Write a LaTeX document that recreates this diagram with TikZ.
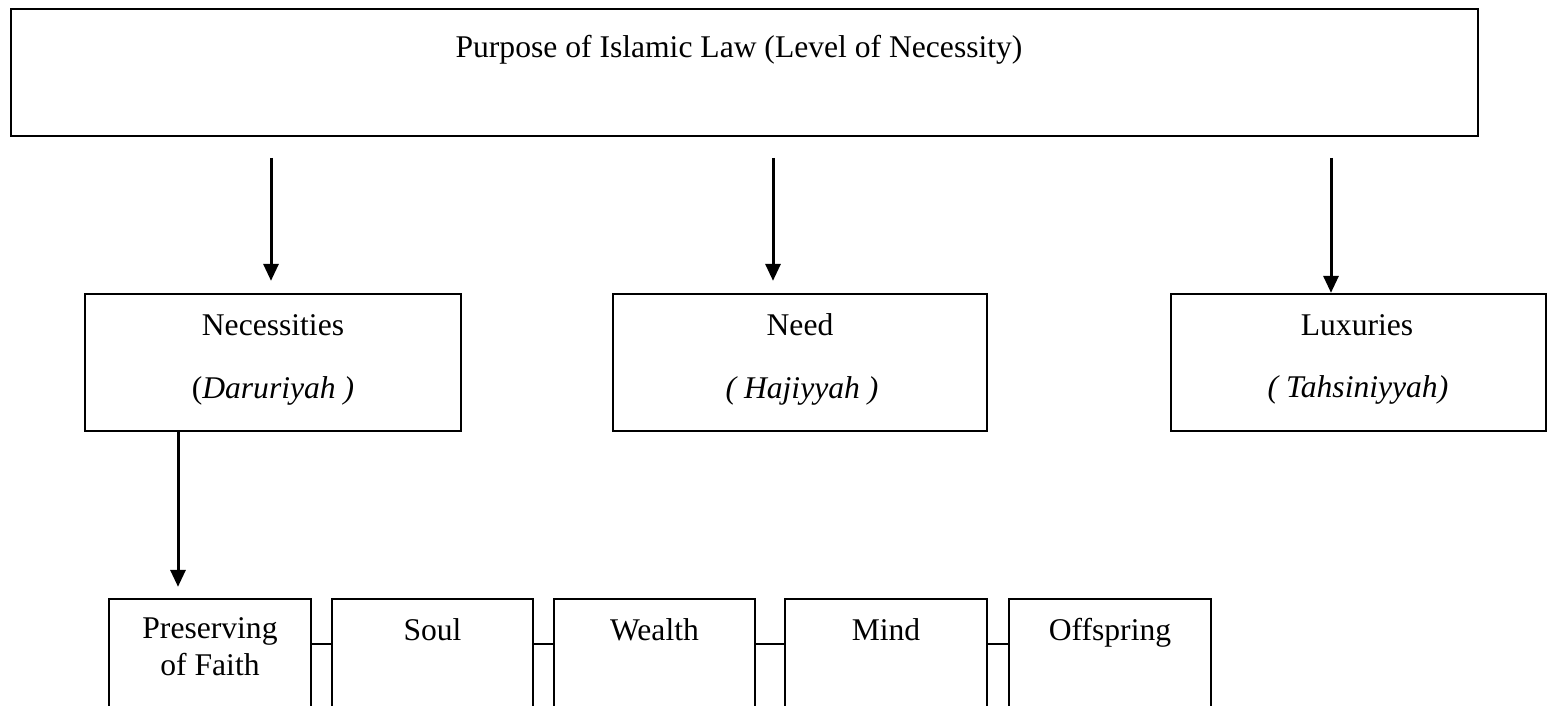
\documentclass[tikz,border=0pt]{standalone}
\usepackage{fontspec}
\setmainfont{Liberation Serif}
\usetikzlibrary{arrows.meta}
\tikzset{
  boxnode/.style={draw, line width=2.3pt, rectangle, inner sep=0pt},
  lbl/.style={anchor=base, inner sep=0pt, font=\fontsize{31.6}{38}\selectfont},
  arr/.style={line width=3pt, -{Triangle[length=17pt,width=15pt]}},
  link/.style={line width=2.3pt}
}
\begin{document}
\begin{tikzpicture}[x=1pt,y=-1pt]
\path[use as bounding box, clip] (0,0) rectangle (1551,706);
\fill[white] (0,0) rectangle (1551,706);
% boxes
\node[boxnode, minimum width=1467pt, minimum height=127pt] (top) at (744.5,72.5) {};
\node[boxnode, minimum width=376pt, minimum height=137pt] (nec) at (273,362.5) {};
\node[boxnode, minimum width=374pt, minimum height=137pt] (need) at (800,362.5) {};
\node[boxnode, minimum width=375pt, minimum height=137pt] (lux) at (1358.5,362.5) {};
\node[boxnode, minimum width=202pt, minimum height=141pt] (pres) at (210,669.5) {};
\node[boxnode, minimum width=201pt, minimum height=141pt] (soul) at (432.5,669.5) {};
\node[boxnode, minimum width=201pt, minimum height=141pt] (wealth) at (654.5,669.5) {};
\node[boxnode, minimum width=202pt, minimum height=141pt] (mind) at (886,669.5) {};
\node[boxnode, minimum width=202pt, minimum height=141pt] (off) at (1110,669.5) {};
% texts
\node[lbl] (ttl) at (739,58) {Purpose of Islamic Law (Level of Necessity)};
\node[lbl] (nect1) at (273,335) {Necessities};
\node[lbl] (nect2) at (273,398) {(\textit{Daruriyah )}};
\node[lbl] (needt1) at (800,335) {Need};
\node[lbl] (needt2) at (802,398) {\textit{( Hajiyyah )}};
\node[lbl] (luxt1) at (1357,335) {Luxuries};
\node[lbl] (luxt2) at (1358,397) {\textit{( Tahsiniyyah)}};
\node[lbl] (prest1) at (210,638) {Preserving};
\node[lbl] (prest2) at (210,675) {of Faith};
\node[lbl] (soult) at (432.5,640) {Soul};
\node[lbl] (wealtht) at (654.5,640) {Wealth};
\node[lbl] (mindt) at (886,640) {Mind};
\node[lbl] (offt) at (1110,640) {Offspring};
% arrows
\coordinate (a1) at (271,158);
\coordinate (a2) at (773,158);
\coordinate (a3) at (1331,158);
\coordinate (a4) at (178,0);
\draw[arr, shorten >=12pt] (a1) -- (a1 |- nec.north);
\draw[arr, shorten >=12pt] (a2) -- (a2 |- need.north);
\draw[arr] (a3) -- (a3 |- lux.north);
\draw[arr, shorten >=11pt] (a4 |- nec.south) -- (a4 |- pres.north);
% links
\draw[link] ([yshift=25.5pt]pres.east) -- ([yshift=25.5pt]soul.west);
\draw[link] ([yshift=25.5pt]soul.east) -- ([yshift=25.5pt]wealth.west);
\draw[link] ([yshift=25.5pt]wealth.east) -- ([yshift=25.5pt]mind.west);
\draw[link] ([yshift=25.5pt]mind.east) -- ([yshift=25.5pt]off.west);
\end{tikzpicture}
\end{document}
